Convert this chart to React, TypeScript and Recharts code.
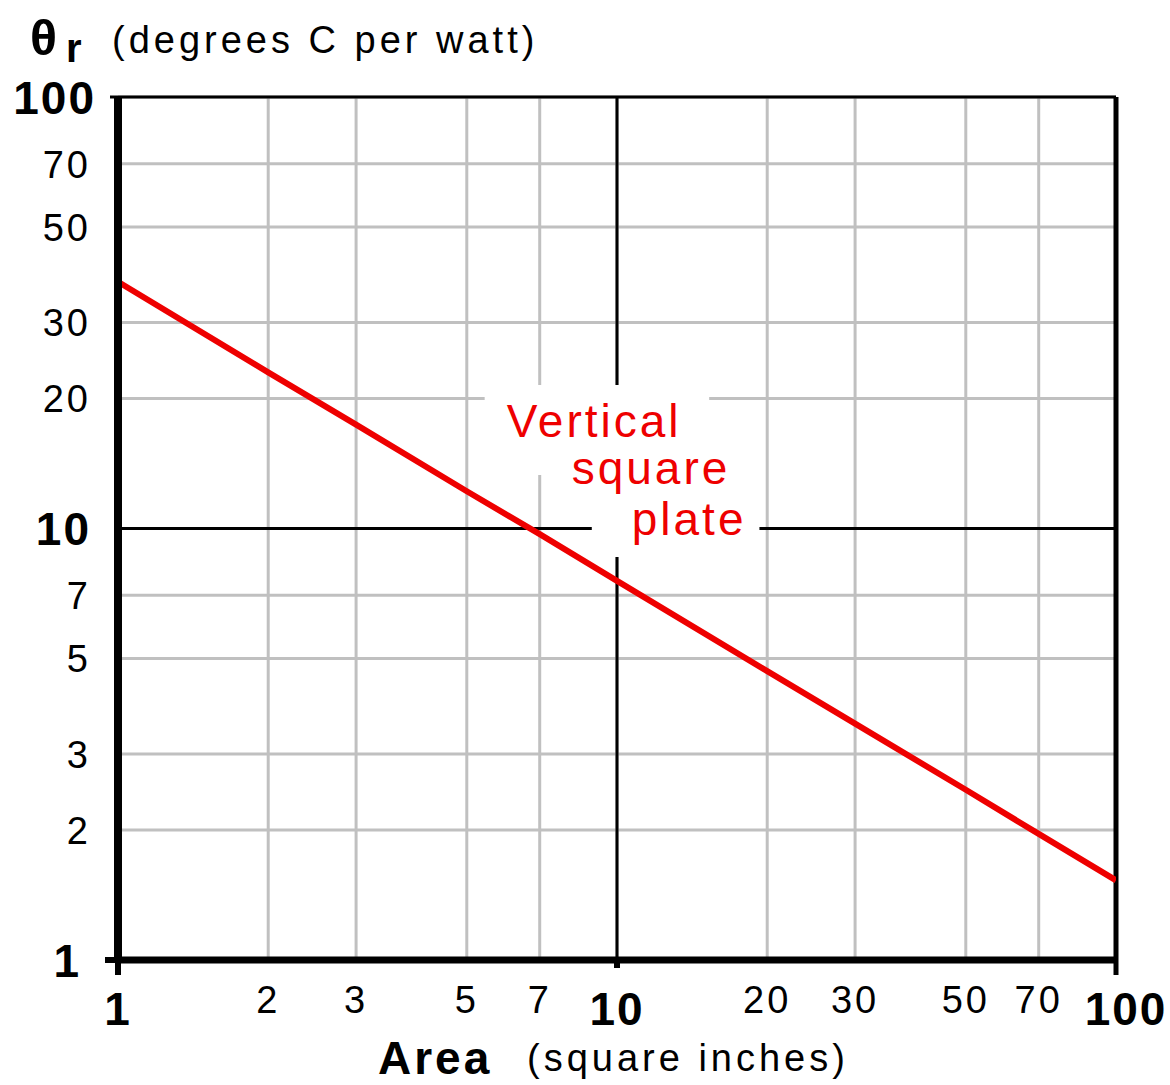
import {
  LineChart,
  Line,
  XAxis,
  YAxis,
  CartesianGrid,
  ReferenceLine,
  ReferenceArea,
} from "recharts";

// thermal resistance of a vertical square plate vs. its area
const areaSqIn = [1, 2, 3, 5, 7, 10, 20, 30, 50, 70, 100];
const thetaR = [37.3, 23.0, 17.4, 12.2, 9.7, 7.56, 4.67, 3.53, 2.48, 1.96, 1.53];

const xTicks = [1, 2, 3, 5, 7, 10, 20, 30, 50, 70, 100];
const yTicks = [1, 2, 3, 5, 7, 10, 20, 30, 50, 70, 100];
const majorTicks = [1, 10, 100];

const noteLines = ["Vertical", "square", "plate"];

const data = areaSqIn.map((a, i) => ({ area: a, theta: thetaR[i] }));

const FONT = "'Liberation Sans', Arial, sans-serif";
const RED = "#ee0000";
const GRID = "#c0c0c0";

function XTick(props: any) {
  const { x, y, payload } = props;
  const v = payload.value;
  const major = majorTicks.includes(v);
  return (
    <g>
      {major && <line x1={x} x2={x} y1={y} y2={y + (v === 10 ? 8 : 15)} stroke="#000" strokeWidth={v === 100 ? 5 : 6} />}
      <text
        x={x + (v === 100 ? 10 : 0)}
        y={y + (major ? 65 : 53)}
        textAnchor="middle"
        fontFamily={FONT}
        fontSize={major ? 46 : 38}
        fontWeight={major ? 700 : 400}
        letterSpacing={major ? 2 : 3}
        fill="#000"
      >
        {v}
      </text>
    </g>
  );
}

function YTick(props: any) {
  const { x, y, payload } = props;
  const v = payload.value;
  const major = majorTicks.includes(v);
  return (
    <g>
      {v !== 10 && major && <line x1={x - (v === 1 ? 13 : 8)} x2={x} y1={y} y2={y} stroke="#000" strokeWidth={v === 1 ? 6 : 3} />}
      <text
        x={x - (v === 1 ? 37 : v === 100 ? 22 : 27)}
        y={y}
        dy="0.36em"
        textAnchor="end"
        fontFamily={FONT}
        fontSize={major ? 46 : 38}
        fontWeight={major ? 700 : 400}
        letterSpacing={major ? 2 : 3}
        fill="#000"
      >
        {v}
      </text>
    </g>
  );
}

function NoteLabel(props: any) {
  const { viewBox, text, dx, dy } = props;
  if (!viewBox) return null;
  return (
    <text
      x={viewBox.x + dx}
      y={viewBox.y + dy}
      fontFamily={FONT}
      fontSize={46}
      letterSpacing={3}
      fill={RED}
    >
      {text}
    </text>
  );
}

export default function App() {
  return (
    <div
      style={{
        position: "absolute",
        left: 0,
        top: 0,
        width: 1170,
        height: 1085,
        background: "#fff",
        fontFamily: FONT,
      }}
    >
      <LineChart
        width={1170}
        height={1085}
        data={data}
        margin={{ top: 97, right: 54, left: 28, bottom: 65 }}
      >
        <CartesianGrid stroke={GRID} strokeWidth={3} />
        <XAxis
          dataKey="area"
          type="number"
          scale="log"
          domain={[1, 100]}
          ticks={xTicks}
          allowDataOverflow
          height={60}
          tickLine={false}
          tickSize={0}
          tickMargin={0}
          axisLine={{ stroke: "#000", strokeWidth: 7 }}
          tick={<XTick />}
          interval={0}
        />
        <YAxis
          type="number"
          scale="log"
          domain={[1, 100]}
          ticks={yTicks}
          allowDataOverflow
          width={90}
          tickLine={false}
          tickSize={0}
          tickMargin={0}
          axisLine={{ stroke: "#000", strokeWidth: 8 }}
          tick={<YTick />}
          interval={0}
        />
        <ReferenceArea
          x1={5.43}
          x2={15.3}
          y1={13.3}
          y2={21.5}
          fill="#fff"
          fillOpacity={1}
          stroke="none"
          label={<NoteLabel text={noteLines[0]} dx={22} dy={52} />}
        />
        <ReferenceArea
          x1={7.57}
          x2={17.4}
          y1={11.3}
          y2={15.6}
          fill="#fff"
          fillOpacity={1}
          stroke="none"
          label={<NoteLabel text={noteLines[1]} dx={15} dy={39} />}
        />
        <ReferenceArea
          x1={8.9}
          x2={19.3}
          y1={8.59}
          y2={11.6}
          fill="#fff"
          fillOpacity={1}
          stroke="none"
          label={<NoteLabel text={noteLines[2]} dx={40} dy={34} />}
        />
        {/* the black decade lines at 10 stop where the note sits */}
        <ReferenceLine segment={[{ x: 1, y: 10 }, { x: 8.9, y: 10 }]} stroke="#000" strokeWidth={3} />
        <ReferenceLine segment={[{ x: 19.3, y: 10 }, { x: 100, y: 10 }]} stroke="#000" strokeWidth={3} />
        <ReferenceLine segment={[{ x: 10, y: 1 }, { x: 10, y: 8.59 }]} stroke="#000" strokeWidth={3} />
        <ReferenceLine segment={[{ x: 10, y: 21.5 }, { x: 10, y: 100 }]} stroke="#000" strokeWidth={3} />
        <ReferenceLine y={100} stroke="#000" strokeWidth={3} />
        <ReferenceLine x={100} stroke="#000" strokeWidth={5} />
        <Line
          dataKey="theta"
          type="linear"
          stroke={RED}
          strokeWidth={6}
          dot={false}
          activeDot={false}
          isAnimationActive={false}
        />
      </LineChart>
      <svg
        width={1170}
        height={1085}
        style={{ position: "absolute", left: 0, top: 0, pointerEvents: "none" }}
      >
        <text x={30} y={55} fontFamily={FONT} fontSize={50} fontWeight={700} fill="#000">
          θ
        </text>
        <text x={66} y={62} fontFamily={FONT} fontSize={40} fontWeight={700} fill="#000">
          r
        </text>
        <text x={112} y={53} fontFamily={FONT} fontSize={38} letterSpacing={4} fill="#000">
          (degrees C per watt)
        </text>
        <text x={378} y={1074} fontFamily={FONT} fontSize={46} fontWeight={700} letterSpacing={3} fill="#000">
          Area
        </text>
        <text x={527} y={1071} fontFamily={FONT} fontSize={38} letterSpacing={4} fill="#000">
          (square inches)
        </text>
      </svg>
    </div>
  );
}
